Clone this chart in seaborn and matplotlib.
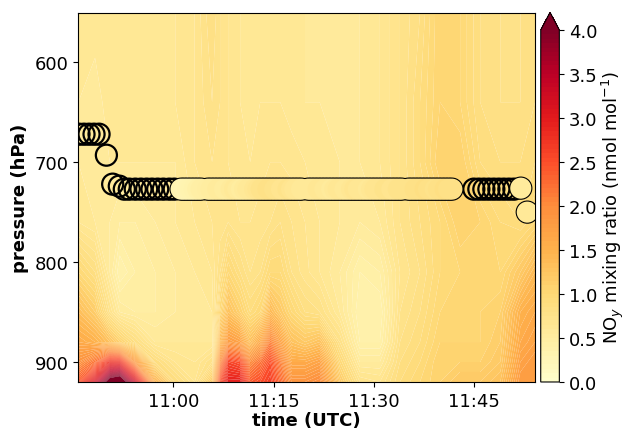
import numpy as np
import pandas as pd
import matplotlib
matplotlib.use("Agg")
import matplotlib.pyplot as plt
import matplotlib.dates as mdates
import seaborn as sns

# ---------------- data ----------------
base_day = "2000-01-01 11:00:00"

# contour grid: minutes after 11:00 UTC and pressure levels (hPa)
grid_minutes = [-14.2, -11.7, -9.5, -8.0, -5.7, -2.7, 0.3, 3.2, 5.8, 7.0, 8.2, 10.0, 11.5,
                13.0, 14.5, 16.0, 17.7, 19.7, 21.9, 24.9, 27.9, 30.9, 33.9, 36.9, 39.9,
                42.9, 45.9, 48.9, 51.9, 54.1]
grid_pressure = [551, 640, 700, 760, 810, 850, 880, 900, 920]
# NOy (nmol/mol), one list per time column, top (551 hPa) to bottom (920 hPa)
noy_columns = [
    [0.65, 0.60, 0.60, 0.65, 1.00, 1.35, 1.60, 1.90, 2.40],
    [0.65, 0.55, 0.55, 0.60, 0.85, 1.15, 1.50, 2.20, 3.20],
    [0.65, 0.65, 0.60, 0.55, 0.55, 0.75, 1.30, 2.80, 4.30],
    [0.65, 0.65, 0.60, 0.50, 0.35, 0.55, 1.10, 2.80, 4.50],
    [0.65, 0.65, 0.60, 0.50, 0.45, 0.50, 0.85, 1.80, 3.30],
    [0.60, 0.65, 0.60, 0.55, 0.50, 0.50, 0.60, 0.90, 1.50],
    [0.65, 0.65, 0.60, 0.60, 0.55, 0.55, 0.60, 0.70, 0.90],
    [0.70, 0.70, 0.70, 0.65, 0.60, 0.60, 0.60, 0.65, 0.70],
    [0.85, 0.80, 0.75, 0.70, 0.65, 0.60, 0.60, 0.80, 1.20],
    [0.75, 0.75, 0.72, 0.72, 0.80, 1.00, 1.40, 2.00, 2.50],
    [0.70, 0.70, 0.70, 0.75, 1.00, 1.30, 1.80, 2.60, 2.95],
    [0.65, 0.65, 0.70, 0.70, 0.85, 1.10, 1.70, 2.50, 2.95],
    [0.65, 0.65, 0.65, 0.70, 0.75, 0.90, 1.30, 2.00, 2.40],
    [0.65, 0.65, 0.68, 0.72, 0.80, 1.00, 1.60, 2.20, 2.50],
    [0.65, 0.65, 0.70, 0.75, 0.95, 1.40, 2.10, 2.50, 2.65],
    [0.65, 0.65, 0.70, 0.80, 0.95, 1.20, 1.70, 2.10, 2.30],
    [0.62, 0.62, 0.68, 0.75, 0.80, 1.00, 1.30, 1.60, 1.90],
    [0.60, 0.60, 0.65, 0.70, 0.72, 0.85, 1.20, 1.60, 1.90],
    [0.60, 0.60, 0.65, 0.65, 0.65, 0.80, 1.30, 1.70, 2.00],
    [0.60, 0.60, 0.60, 0.60, 0.55, 0.60, 0.80, 1.00, 1.20],
    [0.60, 0.60, 0.60, 0.55, 0.40, 0.35, 0.40, 0.55, 0.75],
    [0.65, 0.65, 0.65, 0.60, 0.45, 0.35, 0.40, 0.55, 0.70],
    [0.75, 0.75, 0.75, 0.75, 0.70, 0.75, 0.80, 0.85, 0.90],
    [0.85, 0.90, 0.90, 0.85, 0.80, 0.85, 0.90, 0.95, 1.00],
    [1.05, 1.05, 1.10, 0.95, 0.95, 1.00, 1.05, 1.10, 1.10],
    [1.00, 1.00, 1.10, 1.10, 1.00, 1.05, 1.05, 1.10, 1.20],
    [0.85, 0.85, 0.90, 1.05, 1.05, 1.05, 1.05, 1.10, 1.20],
    [0.80, 0.80, 0.85, 0.95, 1.00, 1.10, 1.15, 1.20, 1.30],
    [0.80, 0.80, 0.85, 0.90, 1.20, 1.50, 1.60, 1.70, 1.80],
    [0.85, 0.85, 0.90, 1.00, 1.40, 1.60, 1.70, 1.80, 1.80],
]

# aircraft track: sparse points (minutes after 11:00, pressure, NOy; nan = no NOy)
track_minutes = [-14.1, -13.35, -12.6, -11.85, -11.1,
                 -10.0,
                 -9.06, -8.07, -7.32, -6.58, -5.68, -4.83, -3.98, -3.18, -2.33, -1.49, -0.6, 0.15]
track_pressure = [672, 672, 672, 672, 672,
                  693,
                  722, 724, 727, 727, 727, 727, 727, 727, 727, 727, 727, 727]
track_noy = [np.nan] * 18

# dense leg at 727 hPa, 30 s records (None = no record)
leg_start = "2000-01-01 11:01:10"
leg_pressure = 727
leg_noy = [0.30, 0.28, 0.30, 0.32, 0.35, 0.40,
           0.45, None, 0.48,
           0.50, 0.50, 0.55, 0.55, 0.50, 0.50, 0.55, 0.60, 0.55, 0.50, 0.55, 0.60, 0.60, 0.65, 0.70,
           0.75, 0.75, 0.80, 0.80, 0.75, 0.75, 0.70, 0.70, 0.75, 0.70, 0.65, 0.65, 0.60,
           None, 0.60,
           0.60, 0.60, 0.65, 0.65, 0.60, 0.60, 0.55, 0.60, 0.65, 0.65, 0.60, 0.60, 0.65, 0.70, 0.65,
           0.65, 0.65, 0.60, 0.65, 0.70, 0.70, 0.70, 0.75, 0.75, 0.70, 0.70, 0.75, 0.75,
           None, 0.75,
           0.75, 0.80, 0.80, 0.80, 0.85, 0.80, 0.80, 0.75, 0.80, 0.80, 0.85, 0.80, 0.80]

# end of track
end_minutes = [44.95, 45.7, 46.45, 47.2, 47.94, 48.69, 49.44, 50.19, 50.94, 51.97, 52.94]
end_pressure = [727, 727, 727, 727, 727, 727, 727, 727, 727, 726, 750]
end_noy = [np.nan] * 9 + [0.55, 0.60]

# ---------------- build ----------------
t0 = pd.Timestamp(base_day)
def to_num(mins):
    return mdates.date2num([t0 + pd.Timedelta(minutes=m) for m in mins])

gx = to_num(grid_minutes)
Z = np.array(noy_columns).T
X, P = np.meshgrid(gx, grid_pressure)

leg_times = pd.date_range(leg_start, periods=len(leg_noy), freq="30s")
leg_x = [mdates.date2num(t) for t, v in zip(leg_times, leg_noy) if v is not None]
leg_v = [v for v in leg_noy if v is not None]

tx = np.concatenate([to_num(track_minutes), leg_x, to_num(end_minutes)])
tp = np.concatenate([track_pressure, [leg_pressure] * len(leg_v), end_pressure]).astype(float)
tv = np.concatenate([track_noy, leg_v, end_noy]).astype(float)
ok = np.isfinite(tv)

# ---------------- plot ----------------
sns.set_style("ticks", {"axes.edgecolor": "black", "axes.labelcolor": "black",
                        "xtick.color": "black", "ytick.color": "black",
                        "text.color": "black"})
plt.rcParams["font.family"] = ["DejaVu Sans"]
plt.rcParams["font.size"] = 13

cmap = sns.color_palette("YlOrRd", as_cmap=True).copy()

fig = plt.figure(figsize=(6.27, 4.31), dpi=100)
ax = fig.add_axes([0.1249, 0.1114, 0.7284, 0.8554])
cax = fig.add_axes([0.8624, 0.1114, 0.0297, 0.8576])

levels = np.arange(0, 4.001, 0.05)
cf = ax.contourf(X, P, Z, levels=levels, cmap=cmap, extend="max", antialiased=True)

# outlines first, then the coloured faces on top of them
ax.scatter(tx, tp, s=230, facecolors="none", edgecolors="k", linewidths=1.6, zorder=3)
ax.scatter(tx[ok], tp[ok], c=tv[ok], cmap=cmap, vmin=0, vmax=4, s=230,
           edgecolors="none", linewidths=0, zorder=4)

ax.set_xlim(gx[0], gx[-1])
ax.set_ylim(920, 551)
ax.set_yticks([600, 700, 800, 900])
ax.xaxis.set_major_locator(mdates.MinuteLocator(byminute=[0, 15, 30, 45]))
ax.xaxis.set_major_formatter(mdates.DateFormatter("%H:%M"))
ax.set_xlabel("time (UTC)", fontweight="bold", labelpad=1)
ax.set_ylabel("pressure (hPa)", fontweight="bold")
ax.tick_params(labelsize=13)

cb = fig.colorbar(cf, cax=cax, extend="max")
cb.set_ticks(np.arange(0, 4.01, 0.5))
cb.ax.tick_params(labelsize=13)
cb.set_label("NO$_y$ mixing ratio (nmol mol$^{-1}$)", fontsize=13, labelpad=1)

fig.savefig("out.png", dpi=100)
